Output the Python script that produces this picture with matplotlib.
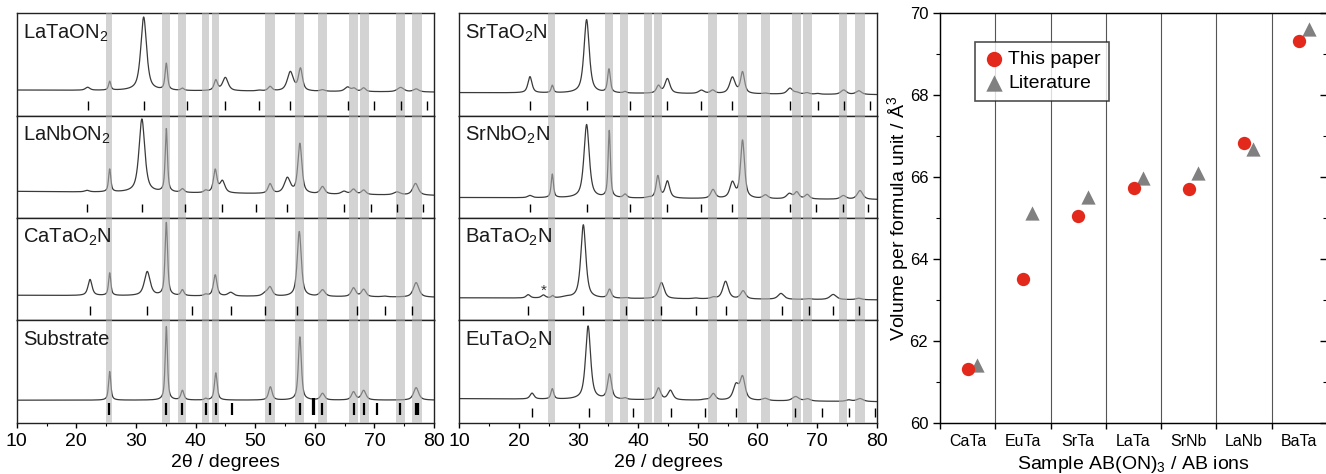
import numpy as np
import matplotlib
matplotlib.use('Agg')
import matplotlib.pyplot as plt
from matplotlib.ticker import MultipleLocator, FixedLocator, NullFormatter

plt.rcParams['font.family'] = ['Liberation Sans', 'DejaVu Sans']
plt.rcParams['mathtext.default'] = 'regular'

# ---------------- data ----------------
# substrate (sapphire) reflection regions, degrees 2theta
band_lo = [24.9, 34.4, 37.0, 41.0, 42.7, 51.7, 56.75, 60.55, 65.75, 67.6, 73.65, 76.3]
band_hi = [26.0, 35.75, 38.35, 42.25, 43.95, 53.25, 58.25, 62.1, 67.25, 69.1, 75.1, 78.05]

# left column
latao_name = 'LaTaON$_2$'
latao_refl = [21.9, 31.3, 38.6, 45.0, 50.6, 55.9, 65.5, 70.0, 74.4, 78.8]
latao_pos = [21.9, 25.6, 31.3, 35.1, 37.8, 43.4, 45.0, 50.6, 52.5, 55.9, 57.6, 61.3, 65.5, 66.6, 68.2, 74.4, 77.0]
latao_hgt = [0.04, 0.12, 1.0, 0.36, 0.03, 0.14, 0.18, 0.01, 0.06, 0.26, 0.30, 0.02, 0.06, 0.04, 0.05, 0.06, 0.04]
latao_fw = [0.9, 0.45, 1.15, 0.5, 0.6, 0.7, 1.1, 0.9, 0.8, 1.2, 0.8, 0.9, 1.1, 0.8, 0.8, 1.3, 1.1]
latao_base = [0.25, 0.23]

lanbo_name = 'LaNbON$_2$'
lanbo_refl = [21.8, 31.05, 38.3, 44.5, 50.1, 55.35, 64.9, 69.35, 73.8, 78.2]
lanbo_pos = [21.8, 25.6, 31.0, 35.1, 37.8, 41.7, 43.3, 44.5, 52.5, 55.4, 57.5, 61.3, 64.9, 66.5, 68.2, 73.8, 76.9]
lanbo_hgt = [0.02, 0.31, 1.0, 0.86, 0.05, 0.03, 0.31, 0.16, 0.13, 0.21, 0.68, 0.10, 0.04, 0.07, 0.06, 0.04, 0.16]
lanbo_fw = [0.9, 0.45, 1.15, 0.45, 0.7, 0.7, 0.7, 1.0, 0.8, 1.2, 0.8, 0.9, 1.1, 0.9, 0.9, 1.3, 1.1]
lanbo_base = [0.26, 0.22]

catao_name = 'CaTaO$_2$N'
catao_refl = [22.3, 31.9, 39.45, 45.9, 51.7, 57.1, 67.05, 71.75, 76.3]
catao_pos = [22.3, 25.6, 31.9, 35.1, 37.8, 41.7, 43.3, 45.9, 51.7, 52.5, 57.4, 61.3, 66.5, 68.2, 71.7, 77.0]
catao_hgt = [0.22, 0.31, 0.33, 1.0, 0.08, 0.02, 0.29, 0.05, 0.04, 0.12, 0.89, 0.09, 0.12, 0.10, 0.01, 0.20]
catao_fw = [0.8, 0.45, 1.15, 0.5, 0.6, 0.7, 0.7, 1.1, 1.1, 0.9, 0.8, 1.0, 0.9, 0.9, 1.1, 1.1]
catao_base = [0.245, 0.225]

subs_name = 'Substrate'
subs_refl = [25.5, 35.1, 37.7, 41.7, 43.35, 46.15, 52.55, 57.5, 59.65, 59.8, 61.25, 66.55, 68.3, 70.45, 74.3, 76.95, 77.3]
subs_refl_top = [0.195, 0.195, 0.195, 0.195, 0.195, 0.195, 0.195, 0.195, 0.24, 0.24, 0.195, 0.195, 0.195, 0.195, 0.195, 0.195, 0.195]
subs_pos = [25.6, 35.1, 37.8, 41.7, 43.4, 52.55, 57.5, 61.3, 66.5, 68.2, 77.0]
subs_hgt = [0.39, 1.0, 0.13, 0.02, 0.37, 0.18, 0.86, 0.09, 0.11, 0.13, 0.17]
subs_fw = [0.45, 0.45, 0.6, 0.5, 0.55, 0.7, 0.6, 0.8, 0.8, 0.9, 1.0]
subs_base = [0.22, 0.22]

# middle column
srtao_name = 'SrTaO$_2$N'
srtao_refl = [21.85, 31.35, 38.6, 44.9, 50.6, 55.8, 65.45, 70.1, 74.45, 78.9]
srtao_pos = [21.85, 25.6, 31.35, 35.1, 37.8, 43.4, 44.9, 50.6, 52.5, 55.8, 57.5, 61.3, 65.45, 66.6, 68.3, 70.1, 74.45, 77.0]
srtao_hgt = [0.22, 0.10, 1.0, 0.32, 0.02, 0.10, 0.20, 0.045, 0.045, 0.22, 0.29, 0.01, 0.08, 0.02, 0.02, 0.01, 0.06, 0.05]
srtao_fw = [0.8, 0.45, 1.05, 0.55, 0.6, 0.8, 1.0, 1.1, 0.9, 1.1, 0.8, 0.9, 1.1, 0.9, 0.9, 0.9, 1.1, 1.1]
srtao_base = [0.225, 0.205]

srnbo_name = 'SrNbO$_2$N'
srnbo_refl = [21.85, 31.35, 38.6, 44.9, 50.6, 55.8, 65.45, 69.8, 74.4, 78.6]
srnbo_pos = [21.85, 25.6, 31.35, 35.15, 37.8, 41.7, 43.3, 44.9, 52.55, 55.8, 57.5, 61.35, 65.35, 66.6, 68.35, 74.4, 77.2]
srnbo_hgt = [0.03, 0.32, 1.0, 0.91, 0.05, 0.01, 0.30, 0.23, 0.12, 0.21, 0.79, 0.05, 0.07, 0.09, 0.06, 0.05, 0.12]
srnbo_fw = [0.9, 0.45, 1.05, 0.45, 0.7, 0.7, 0.7, 0.9, 0.9, 1.0, 0.8, 1.0, 1.1, 0.9, 0.9, 1.1, 1.1]
srnbo_base = [0.2, 0.18]

batao_name = 'BaTaO$_2$N'
batao_refl = [21.6, 30.8, 37.9, 43.9, 49.7, 54.66, 64.1, 68.6, 72.7, 77.0]
batao_pos = [21.55, 24.1, 25.65, 27.9, 30.8, 35.2, 37.9, 43.9, 49.6, 52.6, 54.65, 57.6, 63.95, 68.6, 72.7, 77.0]
batao_hgt = [0.045, 0.04, 0.03, 0.015, 1.0, 0.12, 0.01, 0.22, 0.01, 0.02, 0.24, 0.11, 0.08, 0.01, 0.07, 0.02]
batao_fw = [0.8, 0.8, 0.45, 1.6, 1.0, 0.7, 0.9, 1.1, 1.1, 0.9, 1.1, 1.0, 1.2, 1.1, 1.3, 1.1]
batao_base = [0.22, 0.2]
batao_star = [24.1, 0.29]

eutao_name = 'EuTaO$_2$N'
eutao_refl = [22.24, 31.69, 39.07, 45.5, 51.2, 56.45, 66.3, 70.9, 75.3, 79.7]
eutao_pos = [22.2, 25.6, 31.6, 35.2, 37.8, 43.4, 45.4, 51.2, 52.6, 56.4, 57.5, 61.3, 66.4, 68.4, 75.3, 77.2]
eutao_hgt = [0.08, 0.14, 1.0, 0.34, 0.02, 0.16, 0.13, 0.01, 0.09, 0.20, 0.31, 0.03, 0.06, 0.03, 0.02, 0.04]
eutao_fw = [0.8, 0.55, 1.0, 0.8, 0.7, 0.9, 1.0, 1.1, 0.9, 1.1, 1.0, 1.1, 1.3, 1.1, 1.1, 1.3]
eutao_base = [0.235, 0.205]

# right panel
categories = ['CaTa', 'EuTa', 'SrTa', 'LaTa', 'SrNb', 'LaNb', 'BaTa']
this_paper = [61.32, 63.51, 65.06, 65.73, 65.71, 66.83, 69.33]
literature = [61.42, 65.12, 65.51, 65.99, 66.10, 66.69, 69.61]

xrd_xticks = [10, 20, 30, 40, 50, 60, 70, 80]
vol_yticks = [60, 62, 64, 66, 68, 70]

# ---------------- drawing ----------------
W, H = 1326, 474
fig = plt.figure(figsize=(W / 100, H / 100), dpi=100)


def fx(px):
    return px / W


def fy(py):
    return 1 - py / H


two_theta = np.linspace(10, 80, 4000)


def profile(pos, hgt, fw):
    y = np.zeros_like(two_theta)
    for p, h, w in zip(pos, hgt, fw):
        g = 0.5 * w
        d = (two_theta - p) / g
        y += h * (0.7 / (1 + d ** 2) + 0.3 * np.exp(-np.log(2) * d ** 2))
    return y


AMP = 0.72
LINE_C = '#3a3a3a'
TOP, BOT = 13.3, 422.7
RH = (BOT - TOP) / 4

columns = [
    (16.7, 434.0, [
        (latao_name, latao_refl, None, latao_pos, latao_hgt, latao_fw, latao_base, False),
        (lanbo_name, lanbo_refl, None, lanbo_pos, lanbo_hgt, lanbo_fw, lanbo_base, False),
        (catao_name, catao_refl, None, catao_pos, catao_hgt, catao_fw, catao_base, False),
        (subs_name, subs_refl, subs_refl_top, subs_pos, subs_hgt, subs_fw, subs_base, True),
    ]),
    (459.3, 876.7, [
        (srtao_name, srtao_refl, None, srtao_pos, srtao_hgt, srtao_fw, srtao_base, False),
        (srnbo_name, srnbo_refl, None, srnbo_pos, srnbo_hgt, srnbo_fw, srnbo_base, False),
        (batao_name, batao_refl, None, batao_pos, batao_hgt, batao_fw, batao_base, False),
        (eutao_name, eutao_refl, None, eutao_pos, eutao_hgt, eutao_fw, eutao_base, False),
    ]),
]

for L, R, rows in columns:
    for i, (name, refl, refl_top, pos, hgt, fw, base, is_sub) in enumerate(rows):
        top_px = TOP + i * RH
        ax = fig.add_axes([fx(L), fy(top_px + RH), (R - L) / W, RH / H])
        ax.set_xlim(10, 80)
        ax.set_ylim(0, 1)
        ax.set_yticks([])
        prof = profile(pos, hgt, fw)
        prof = prof / prof.max()
        bl = base[0] + (base[1] - base[0]) * (two_theta - 10) / 70
        ax.plot(two_theta, bl + AMP * prof, color=LINE_C, lw=0.9, zorder=2)
        for lo, hi in zip(band_lo, band_hi):
            ax.axvspan(lo, hi, color='#b4b4b4', alpha=0.58, lw=0, zorder=3)
        if is_sub:
            ax.vlines(refl, 0.08, refl_top, color='black', lw=1.6, zorder=4)
        else:
            ax.vlines(refl, 0.055, 0.14, color='black', lw=1.0, zorder=4)
        ax.text(0.0145, 0.755, name, transform=ax.transAxes, fontsize=14.5,
                ha='left', va='baseline', color='#1a1a1a', zorder=5)
        if name == batao_name:
            ax.text(batao_star[0], batao_star[1], '*', ha='center', va='center',
                    fontsize=11, color='#333333', zorder=5)
        for s in ax.spines.values():
            s.set_linewidth(1.0)
            s.set_color('#222222')
        if i == 3:
            ax.xaxis.set_major_locator(FixedLocator(xrd_xticks))
            ax.xaxis.set_minor_locator(MultipleLocator(5))
            ax.tick_params(axis='x', which='major', direction='out', length=3.5,
                           width=1.0, labelsize=14, pad=4)
            ax.tick_params(axis='x', which='minor', direction='out', length=1.8, width=0.8)
            ax.set_xlabel('2θ / degrees', fontsize=14, labelpad=3)
        else:
            ax.tick_params(axis='x', which='both', bottom=False, labelbottom=False)

# ---- right panel ----
axv = fig.add_axes([fx(940), fy(423.3), (1327 - 940) / W, (423.3 - 13.3) / H])
xc = np.arange(1, len(categories) + 1)
axv.scatter(xc, this_paper, s=92, marker='o', color='#e2291b', lw=0, zorder=4,
            label='This paper')
axv.scatter(xc + 0.17, literature, s=105, marker='^', color='#808080', lw=0, zorder=3,
            label='Literature')
axv.set_xlim(0.5, len(categories) + 0.5)
axv.set_ylim(60, 70)
for b in np.arange(1.5, len(categories), 1.0):
    axv.axvline(b, color='#555555', lw=0.8, zorder=1)
axv.xaxis.set_major_locator(FixedLocator(np.arange(0.5, len(categories) + 1, 1.0)))
axv.xaxis.set_major_formatter(NullFormatter())
axv.xaxis.set_minor_locator(FixedLocator(xc))
axv.set_xticklabels(categories, minor=True)
axv.tick_params(axis='x', which='major', direction='out', length=4, width=1.0)
axv.tick_params(axis='x', which='minor', length=0, labelsize=11.5, pad=8)
axv.yaxis.set_major_locator(FixedLocator(vol_yticks))
axv.yaxis.set_minor_locator(MultipleLocator(1))
axv.tick_params(axis='y', which='major', direction='out', length=5, width=1.0, labelsize=12)
axv.tick_params(axis='y', which='minor', direction='out', length=3, width=0.8)
axv.set_xlabel('Sample AB(ON)$_3$ / AB ions', fontsize=14, labelpad=3)
axv.set_ylabel('Volume per formula unit / Å$^3$', fontsize=14)
axv.yaxis.set_label_coords(-0.075, 0.5)
for s in axv.spines.values():
    s.set_linewidth(1.0)
    s.set_color('#222222')
axr = axv.twinx()
axr.set_ylim(60, 70)
axr.yaxis.set_major_locator(FixedLocator(vol_yticks))
axr.yaxis.set_minor_locator(MultipleLocator(1))
axr.tick_params(axis='y', which='major', direction='in', length=5, width=1.0, labelright=False)
axr.tick_params(axis='y', which='minor', direction='in', length=3, width=0.8)
leg = axv.legend(loc='upper left', bbox_to_anchor=(0.09, 0.93), borderaxespad=0,
                 fontsize=14, frameon=True, fancybox=False, edgecolor='#222222',
                 handletextpad=0.15, handlelength=1.1, borderpad=0.45, labelspacing=0.3,
                 markerscale=1.15)
leg.get_frame().set_linewidth(1.2)

fig.savefig('out.png', dpi=100)
